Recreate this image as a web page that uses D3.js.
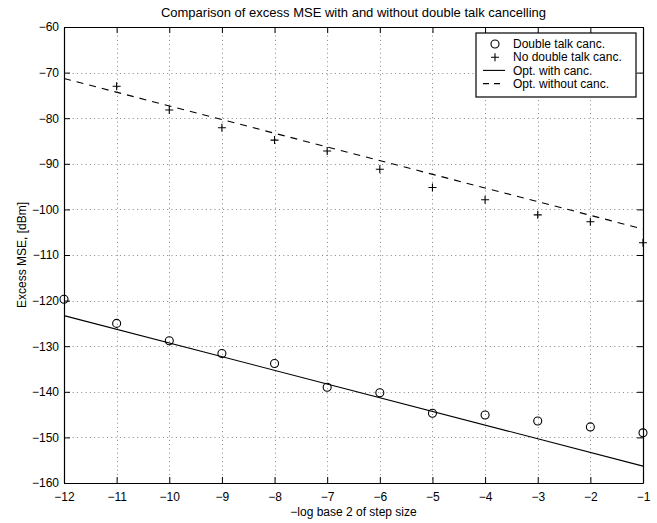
<!DOCTYPE html>
<html>
<head>
<meta charset="utf-8">
<script src="https://cdn.jsdelivr.net/npm/d3@7"></script>
<style>
  body { margin: 0; background: white; }
  text { font-family: "Liberation Sans", Arial, Helvetica, sans-serif; fill: #000; }
</style>
</head>
<body>
<div id="chart"></div>
<script>
// data
const stepX = [-12, -11, -10, -9, -8, -7, -6, -5, -4, -3, -2, -1];
const withCanc = [-119.7, -125.0, -128.8, -131.6, -133.8, -139.0, -140.2, -144.7, -145.1, -146.4, -147.7, -149.0];
const noCancX = [-11, -10, -9, -8, -7, -6, -5, -4, -3, -2, -1];
const noCanc = [-73.0, -78.2, -82.1, -84.8, -87.2, -91.2, -95.2, -97.9, -101.2, -102.7, -107.3];
// optimum lines (end points)
const optWithX = [-12, -1];
const optWith = [-123.3, -156.3];
const optWithoutX = [-12, -1];
const optWithout = [-71.3, -104.3];
const xTicks = d3.range(-12, 0, 1);
const yTicks = d3.range(-160, -59, 10);
const legendLabels = ["Double talk canc.", "No double talk canc.", "Opt. with canc.", "Opt. without canc."];

const svgWidth = 657, svgHeight = 523;
const margin = {top: 27, right: 14, bottom: 40, left: 64};
const width = svgWidth - margin.left - margin.right;
const height = svgHeight - margin.top - margin.bottom;

let svg = d3.select("#chart")
  .append("svg")
  .attr("width", svgWidth)
  .attr("height", svgHeight)
  .append("g")
  .attr("transform", "translate(" + margin.left + "," + margin.top + ")");

const xScale = d3.scaleLinear().domain([-12, -1]).range([0, width]);
const yScale = d3.scaleLinear().domain([-160, -60]).range([height, 0]);

// dotted grid
const grid = svg.append("g")
  .attr("stroke", "#888")
  .attr("stroke-width", 1)
  .attr("stroke-dasharray", "1,3.3");
grid.selectAll(".vg").data(xTicks.slice(1)).join("line")
  .attr("x1", d => Math.round(xScale(d)) + 0.5).attr("x2", d => Math.round(xScale(d)) + 0.5)
  .attr("y1", 0).attr("y2", height);
grid.selectAll(".hg").data(yTicks.slice(1, -1)).join("line")
  .attr("y1", d => Math.round(yScale(d)) + 0.5).attr("y2", d => Math.round(yScale(d)) + 0.5)
  .attr("x1", 0).attr("x2", width);

// axes with inward ticks, box on all sides
const tickLen = 6;
let xAxis = svg.append("g")
  .attr("transform", "translate(0," + height + ")")
  .call(d3.axisBottom(xScale).tickValues(xTicks).tickSizeInner(-tickLen).tickSizeOuter(0).tickPadding(9));
let xTop = svg.append("g")
  .call(d3.axisTop(xScale).tickValues(xTicks).tickSizeInner(-tickLen).tickSizeOuter(0).tickFormat(""));
let yAxis = svg.append("g")
  .call(d3.axisLeft(yScale).tickValues(yTicks).tickSizeInner(-tickLen).tickSizeOuter(0).tickPadding(5));
let yRight = svg.append("g")
  .attr("transform", "translate(" + width + ",0)")
  .call(d3.axisRight(yScale).tickValues(yTicks).tickSizeInner(-tickLen).tickSizeOuter(0).tickFormat(""));

svg.selectAll(".domain").attr("stroke", "#000").attr("stroke-width", 1.2);
svg.selectAll(".tick line").attr("stroke", "#000");
svg.selectAll(".tick text").style("font-size", "12px")
  .style("font-family", "'Liberation Sans', Arial, sans-serif");

// clip plot contents
svg.append("defs").append("clipPath").attr("id", "clip")
  .append("rect").attr("x", -6).attr("y", 0).attr("width", width + 12).attr("height", height);
const plot = svg.append("g").attr("clip-path", "url(#clip)");

const line = d3.line().x(d => xScale(d[0])).y(d => yScale(d[1]));

plot.append("path")
  .datum(optWithX.map((x, i) => [x, optWith[i]]))
  .attr("fill", "none").attr("stroke", "#000").attr("stroke-width", 1.1)
  .attr("d", line);
plot.append("path")
  .datum(optWithoutX.map((x, i) => [x, optWithout[i]]))
  .attr("fill", "none").attr("stroke", "#000").attr("stroke-width", 1.1)
  .attr("stroke-dasharray", "7,6")
  .attr("d", line);

// circle markers
plot.selectAll(".circ").data(stepX.map((x, i) => [x, withCanc[i]])).join("circle")
  .attr("cx", d => xScale(d[0])).attr("cy", d => yScale(d[1]))
  .attr("r", 4).attr("fill", "none").attr("stroke", "#000").attr("stroke-width", 1.1);

// plus markers
const plus = "M-4,0H4M0,-4V4";
plot.selectAll(".plus").data(noCancX.map((x, i) => [x, noCanc[i]])).join("path")
  .attr("transform", d => "translate(" + xScale(d[0]) + "," + yScale(d[1]) + ")")
  .attr("d", plus).attr("fill", "none").attr("stroke", "#000").attr("stroke-width", 1.1);

// legend
const lg = svg.append("g").attr("transform", "translate(" + (476 - margin.left) + "," + (33 - margin.top) + ")");
lg.append("rect").attr("width", 160).attr("height", 64)
  .attr("fill", "white").attr("stroke", "#000").attr("stroke-width", 1.2);
const rowY = i => 11 + i * 13.2;
lg.append("circle").attr("cx", 19).attr("cy", rowY(0)).attr("r", 4)
  .attr("fill", "none").attr("stroke", "#000").attr("stroke-width", 1.1);
lg.append("path").attr("transform", "translate(19," + rowY(1) + ")").attr("d", plus)
  .attr("fill", "none").attr("stroke", "#000").attr("stroke-width", 1.1);
lg.append("line").attr("x1", 7).attr("x2", 29).attr("y1", rowY(2)).attr("y2", rowY(2))
  .attr("stroke", "#000").attr("stroke-width", 1.1);
lg.append("line").attr("x1", 7).attr("x2", 29).attr("y1", rowY(3)).attr("y2", rowY(3))
  .attr("stroke", "#000").attr("stroke-width", 1.1).attr("stroke-dasharray", "6,5");
lg.selectAll(".lt").data(legendLabels).join("text")
  .attr("x", 37).attr("y", (d, i) => rowY(i)).attr("dy", "0.35em")
  .style("font-size", "12px").text(d => d);

// title and axis labels
svg.append("text")
  .attr("x", width / 2).attr("y", -10)
  .attr("text-anchor", "middle").style("font-size", "13px")
  .text("Comparison of excess MSE with and without double talk cancelling");
svg.append("text")
  .attr("x", width / 2).attr("y", height + 33)
  .attr("text-anchor", "middle").style("font-size", "12px")
  .text("\u2212log base 2 of step size");
svg.append("text")
  .attr("transform", "translate(" + (22 - margin.left) + "," + (height / 2) + ") rotate(-90)")
  .attr("text-anchor", "middle").attr("dy", "0.35em").style("font-size", "12px")
  .text("Excess MSE, [dBm]");
</script>
</body>
</html>
